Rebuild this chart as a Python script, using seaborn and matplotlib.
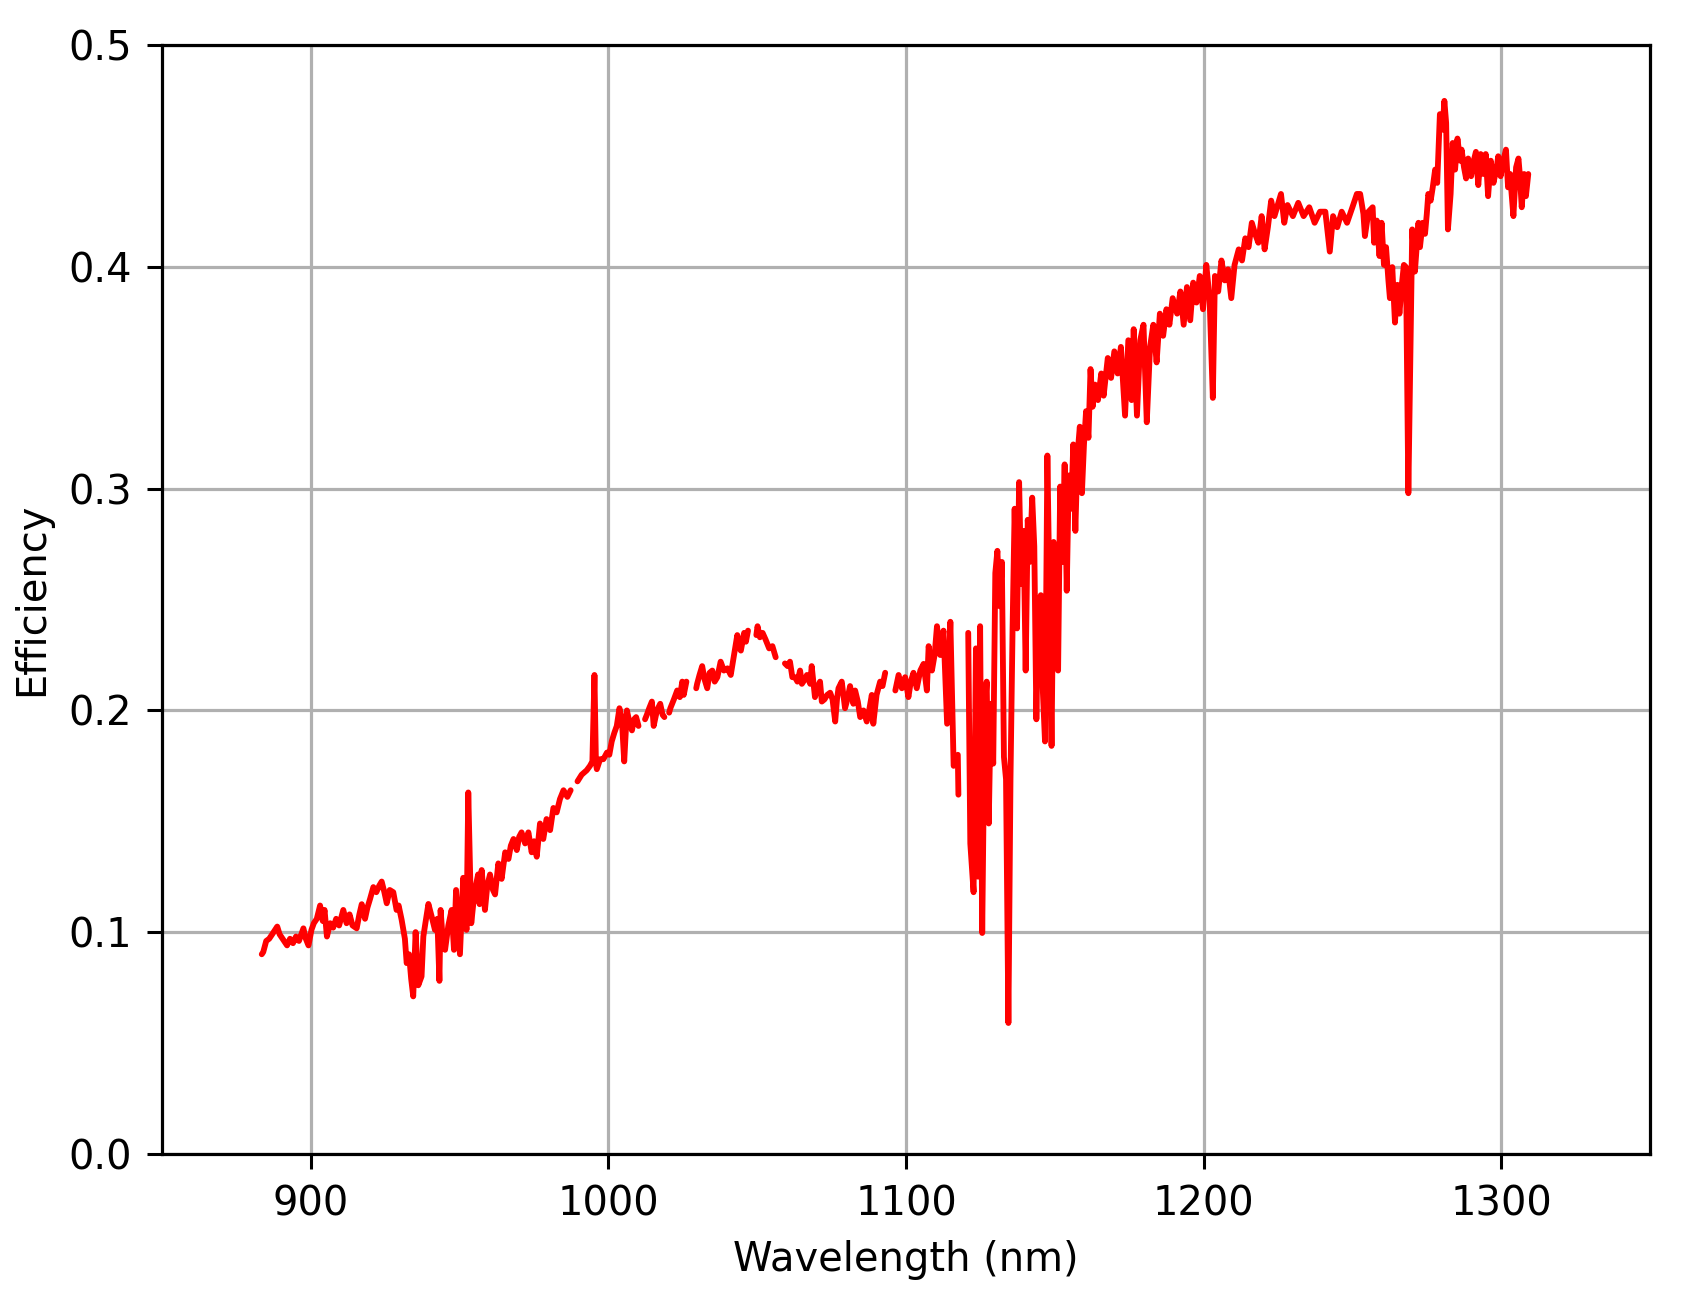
import matplotlib
matplotlib.use("Agg")
import matplotlib.pyplot as plt
import numpy as np
import pandas as pd
import seaborn as sns

nan = np.nan

# wavelength (nm) / efficiency readings, nan marks a gap in the trace
wavelength = [
    883.5, 884.0, 885.0, 886.0, 887.0, 888.7, 889.5, 890.5, 892.0, 893.0,
    894.0, 895.0, 896.0, 897.5, 898.3, 899.2, 900.2, 901.0, 902.0, 903.1,
    904.0, 904.6, 905.4, 906.5, 907.5, 908.5, 909.5, 910.9, 912.0, 913.0,
    914.0, 915.4, 916.3, 917.1, 918.2, 919.0, 919.9, 921.0, 922.0, 923.0,
    923.8, 924.7, 925.5, 926.5, 927.7, 928.8, 929.5, 930.5, 931.6, 932.2,
    933.0, 933.7, 934.4, 935.2, 936.1, 937.2, 937.8, 938.6, 939.5, 940.6,
    941.7, 942.5, 943.2, 943.6, 944.3, 945.1, 946.2, 947.3, 948.1, 948.8,
    950.1, 951.2, 952.3, 952.9, 953.9, 955.0, 956.2, 956.7, 957.4, 958.5,
    959.3, 960.2, 961.2, 961.9, 963.0, 964.1, 965.3, 966.4, 967.2, 968.1,
    969.2, 970.0, 970.8, 972.0, 973.1, 974.2, 975.0, 975.9, 977.0, 978.1,
    979.2, 980.4, 981.5, 982.6, 983.7, 984.9, 986.2, 987.3, nan,
    989.6, 991.0, 992.7, 993.8, 994.6, 995.3, 995.8, 996.1, 997.2, 998.3,
    999.5, 1000.3, 1001.1, 1002.0, 1002.8, 1003.7, 1004.5, 1005.3, 1006.2, 1007.0,
    1007.9, 1008.6, 1009.3, 1010.1, nan,
    1012.3, 1012.9, 1013.7, 1014.6, 1015.2, 1016.3, 1017.4, 1018.2, 1018.8, nan,
    1020.4, 1020.8, 1022.0, 1023.1, 1024.0, 1024.8, 1025.3, 1026.2, nan,
    1029.5, 1029.8, 1030.6, 1031.5, 1032.3, 1033.2, 1034.0, 1034.9, 1035.7, 1036.6,
    1037.7, 1038.8, 1040.0, 1041.1, 1042.2, 1043.3, 1044.0, 1044.5, 1045.6, 1046.2,
    1046.9, nan,
    1049.7, 1050.1, 1050.9, 1051.8, 1052.8, 1054.0, 1055.1, 1056.2, nan,
    1059.3, 1060.2, 1061.0, 1061.8, 1062.7, 1063.5, 1064.4, 1065.0, 1066.0, 1066.7,
    1067.8, 1068.3, 1069.4, 1070.2, 1071.1, 1071.7, 1072.6, 1073.5, 1074.5, 1075.3,
    1076.2, 1076.8, 1077.3, 1078.4, 1079.5, 1080.3, 1081.2, 1082.3, 1082.9, 1083.8,
    1084.6, 1085.7, 1086.8, 1087.6, 1088.5, 1089.0, 1090.1, 1091.3, 1092.1, 1093.0, nan,
    1096.4, 1097.5, 1098.6, 1099.7, 1100.8, 1101.6, 1102.5, 1103.6, 1104.8, 1105.9,
    1107.0, 1107.6, 1108.7, 1109.6, 1110.4, 1111.5, 1112.6, 1113.8, 1114.9, 1116.0, nan,
    1117.4, 1117.6, nan,
    1120.9, 1121.6, 1122.7, 1123.5, 1124.2, 1124.9, 1125.6, 1126.4, 1127.1, 1127.8,
    1128.5, 1129.3, 1130.0, 1130.7, 1131.5, 1132.2, 1132.9, 1133.6, 1134.4, 1135.1,
    1135.8, 1136.5, 1137.3, 1138.0, 1138.7, 1139.5, 1140.2, 1140.9, 1141.6, 1142.4,
    1143.1, 1143.8, 1144.5, 1145.3, 1146.0, 1146.7, 1147.5, 1148.2, 1148.9, 1149.6,
    1150.4, 1151.1, 1151.8, 1152.5, 1153.3, 1154.0, 1154.7, 1155.5, 1156.2, 1156.9,
    1157.6, 1158.4, 1159.1, 1159.8, 1160.5, 1161.3, 1162.0, 1162.7, 1163.5, 1164.5,
    1165.6, 1166.4, 1167.8, 1168.9, 1170.0, 1171.1, 1172.2, 1173.6, 1174.7, 1175.8,
    1176.5, 1177.6, 1178.7, 1179.8, 1180.9, 1182.0, 1183.1, 1184.2, 1185.3, 1186.4,
    1187.5, 1188.5, 1189.6, 1191.1, 1192.2, 1193.3, 1194.4, 1195.5, 1196.5, 1197.6,
    1198.7, 1199.8, 1200.9, 1202.0, 1203.1, 1203.8, 1204.9, 1206.0, 1207.1, 1208.2,
    1209.3, 1210.4, 1211.8, 1212.9, 1214.0, 1215.1, 1216.2, 1217.3, 1218.4, 1219.5,
    1220.5, 1221.6, 1222.7, 1223.8, 1224.9, 1226.0, 1227.1, 1228.2, 1230.0, 1231.8,
    1233.6, 1235.5, 1237.3, 1239.1, 1240.9, 1242.4, 1243.5, 1244.9, 1246.4, 1248.2,
    1250.0, 1251.5, 1252.6, 1253.7, 1254.2, 1255.4, 1256.8, 1257.3, 1258.2, 1259.1,
    1259.8, 1260.6, 1261.3, 1262.1, 1262.6, 1263.4, 1264.3, 1265.1, 1265.8, 1266.6,
    1267.3, 1268.0, 1268.8, 1269.6, 1270.1, 1271.0, 1272.2, 1272.7, 1273.6, 1274.4,
    1275.0, 1275.5, 1276.3, 1277.0, 1277.8, 1278.5, 1279.4, 1280.3, 1280.9, 1281.5,
    1282.1, 1283.0, 1283.7, 1284.5, 1285.3, 1286.2, 1286.7, 1287.5, 1288.2, 1288.9,
    1289.9, 1290.6, 1291.5, 1292.3, 1293.1, 1294.0, 1294.8, 1295.6, 1296.5, 1297.4,
    1298.5, 1299.0, 1299.8, 1300.7, 1301.6, 1302.3, 1303.0, 1303.5, 1304.1, 1305.0,
    1305.8, 1306.3, 1306.9, 1307.7, 1308.3, 1309.1,
]

efficiency = [
    0.090, 0.091, 0.096, 0.097, 0.099, 0.1025, 0.099, 0.097, 0.094, 0.097,
    0.095, 0.098, 0.096, 0.1017, 0.097, 0.094, 0.101, 0.104, 0.106, 0.112,
    0.105, 0.110, 0.098, 0.104, 0.102, 0.106, 0.103, 0.110, 0.104, 0.108,
    0.103, 0.1017, 0.108, 0.1126, 0.106, 0.111, 0.115, 0.1203, 0.118, 0.121,
    0.1228, 0.118, 0.113, 0.119, 0.118, 0.110, 0.112, 0.1056, 0.097, 0.086,
    0.090, 0.079, 0.071, 0.100, 0.076, 0.080, 0.098, 0.105, 0.1127, 0.107,
    0.101, 0.106, 0.078, 0.110, 0.097, 0.092, 0.103, 0.110, 0.092, 0.119,
    0.090, 0.1245, 0.101, 0.163, 0.104, 0.118, 0.126, 0.1126, 0.128, 0.110,
    0.121, 0.126, 0.119, 0.117, 0.131, 0.124, 0.136, 0.133, 0.139, 0.142,
    0.137, 0.143, 0.145, 0.140, 0.145, 0.136, 0.141, 0.134, 0.149, 0.142,
    0.151, 0.146, 0.156, 0.154, 0.160, 0.164, 0.161, 0.164, nan,
    0.168, 0.171, 0.173, 0.175, 0.177, 0.216, 0.176, 0.1735, 0.178, 0.178,
    0.181, 0.180, 0.186, 0.190, 0.193, 0.201, 0.196, 0.177, 0.200, 0.195,
    0.191, 0.196, 0.197, 0.193, nan,
    0.196, 0.198, 0.201, 0.204, 0.193, 0.200, 0.203, 0.198, 0.197, nan,
    0.199, 0.201, 0.205, 0.209, 0.206, 0.213, 0.207, 0.213, nan,
    0.210, 0.212, 0.216, 0.220, 0.214, 0.210, 0.217, 0.218, 0.213, 0.215,
    0.222, 0.218, 0.219, 0.216, 0.225, 0.234, 0.228, 0.227, 0.235, 0.231,
    0.236, nan,
    0.234, 0.238, 0.233, 0.235, 0.232, 0.228, 0.229, 0.224, nan,
    0.2212, 0.220, 0.222, 0.215, 0.215, 0.213, 0.218, 0.212, 0.214, 0.216,
    0.212, 0.220, 0.206, 0.210, 0.213, 0.204, 0.205, 0.207, 0.208, 0.205,
    0.195, 0.205, 0.210, 0.213, 0.201, 0.205, 0.211, 0.203, 0.209, 0.204,
    0.197, 0.200, 0.195, 0.200, 0.207, 0.194, 0.207, 0.213, 0.211, 0.217, nan,
    0.209, 0.216, 0.210, 0.215, 0.206, 0.213, 0.217, 0.210, 0.218, 0.221,
    0.209, 0.229, 0.218, 0.225, 0.238, 0.225, 0.236, 0.194, 0.240, 0.175, nan,
    0.180, 0.162, nan,
    0.235, 0.140, 0.118, 0.228, 0.125, 0.238, 0.0996, 0.198, 0.213, 0.149,
    0.203, 0.176, 0.262, 0.272, 0.247, 0.267, 0.179, 0.169, 0.059, 0.169,
    0.237, 0.291, 0.237, 0.303, 0.257, 0.281, 0.218, 0.286, 0.267, 0.296,
    0.274, 0.196, 0.247, 0.252, 0.208, 0.186, 0.315, 0.252, 0.184, 0.276,
    0.262, 0.218, 0.301, 0.267, 0.311, 0.254, 0.306, 0.291, 0.320, 0.281,
    0.315, 0.328, 0.298, 0.320, 0.335, 0.323, 0.354, 0.337, 0.347, 0.340,
    0.352, 0.342, 0.359, 0.350, 0.362, 0.352, 0.364, 0.333, 0.367, 0.340,
    0.372, 0.333, 0.367, 0.374, 0.330, 0.364, 0.374, 0.357, 0.379, 0.369,
    0.381, 0.374, 0.386, 0.379, 0.389, 0.374, 0.391, 0.376, 0.393, 0.384,
    0.396, 0.381, 0.401, 0.386, 0.341, 0.396, 0.389, 0.403, 0.394, 0.399,
    0.386, 0.401, 0.408, 0.403, 0.413, 0.409, 0.420, 0.415, 0.411, 0.423,
    0.408, 0.418, 0.430, 0.423, 0.428, 0.433, 0.420, 0.428, 0.423, 0.429,
    0.423, 0.427, 0.420, 0.425, 0.425, 0.407, 0.423, 0.418, 0.425, 0.420,
    0.427, 0.433, 0.433, 0.424, 0.414, 0.425, 0.427, 0.411, 0.421, 0.405,
    0.420, 0.401, 0.409, 0.394, 0.386, 0.400, 0.375, 0.392, 0.379, 0.392,
    0.401, 0.400, 0.298, 0.370, 0.417, 0.398, 0.420, 0.409, 0.420, 0.415,
    0.424, 0.433, 0.430, 0.436, 0.444, 0.438, 0.469, 0.462, 0.475, 0.465,
    0.417, 0.433, 0.456, 0.444, 0.458, 0.448, 0.453, 0.445, 0.440, 0.449,
    0.441, 0.447, 0.452, 0.437, 0.451, 0.442, 0.451, 0.432, 0.448, 0.438,
    0.445, 0.450, 0.441, 0.448, 0.453, 0.436, 0.442, 0.433, 0.423, 0.445,
    0.449, 0.441, 0.427, 0.442, 0.432, 0.442,
]

x_ticks = [900, 1000, 1100, 1200, 1300]
y_ticks = [0.0, 0.1, 0.2, 0.3, 0.4, 0.5]

df = pd.DataFrame({"wl": wavelength, "eff": efficiency})
# each run between gaps becomes its own unit so the line breaks there
df["seg"] = df["wl"].isna().cumsum()
df = df.dropna()

sns.set_style("ticks", {
    "axes.edgecolor": "black",
    "xtick.color": "black",
    "ytick.color": "black",
    "text.color": "black",
    "axes.labelcolor": "black",
})
plt.rcParams["font.family"] = ["DejaVu Sans"]
fs = 14.4

fig = plt.figure(figsize=(8.485, 6.455), dpi=200)
ax = fig.add_axes([0.0955, 0.1063, 0.8768, 0.8585])

sns.lineplot(data=df, x="wl", y="eff", units="seg", estimator=None,
             color="red", linewidth=2.1, sort=False, ax=ax)

ax.set_xlim(850, 1350)
ax.set_ylim(0, 0.5)
ax.set_xticks(x_ticks)
ax.set_yticks(y_ticks)
ax.set_yticklabels([f"{v:.1f}" for v in y_ticks])
ax.tick_params(labelsize=fs, length=5.4, width=1.1, pad=5.5, direction="out")
ax.grid(True, color="#b0b0b0", linewidth=1.15)
ax.set_axisbelow(True)
for s in ax.spines.values():
    s.set_linewidth(1.15)
    s.set_visible(True)
ax.set_xlabel("Wavelength (nm)", fontsize=fs, labelpad=5.8)
ax.set_ylabel("Efficiency", fontsize=fs, labelpad=5.8)

fig.savefig("out.png", dpi=200)
